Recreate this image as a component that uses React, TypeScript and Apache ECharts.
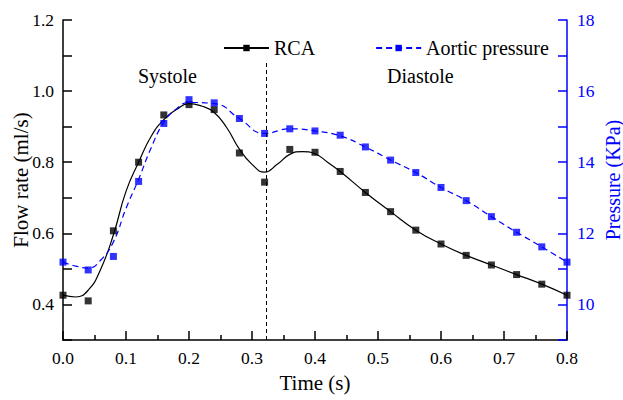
import React, { useEffect, useRef } from "react";
import * as echarts from "echarts";

// Measured sample times (s)
const sampleTimes = [0, 0.04, 0.08, 0.12, 0.16, 0.2, 0.24, 0.28, 0.32, 0.36, 0.4, 0.44, 0.48, 0.52, 0.56, 0.6, 0.64, 0.68, 0.72, 0.76, 0.8];
// RCA flow rate measured points (ml/s)
const rcaPoints = [0.426, 0.41, 0.607, 0.8, 0.933, 0.962, 0.948, 0.826, 0.744, 0.836, 0.828, 0.774, 0.715, 0.661, 0.609, 0.57, 0.538, 0.511, 0.484, 0.457, 0.426];
// Aortic pressure measured points (KPa)
const aorticPoints = [11.19, 10.97, 11.35, 13.46, 15.09, 15.76, 15.67, 15.23, 14.81, 14.94, 14.88, 14.76, 14.43, 14.06, 13.71, 13.29, 12.92, 12.47, 12.03, 11.62, 11.19];

// Fitted curve for RCA
const rcaCurveTimes = [0, 0.02, 0.04, 0.06, 0.08, 0.1, 0.12, 0.14, 0.16, 0.18, 0.2, 0.22, 0.24, 0.26, 0.28, 0.3, 0.32, 0.34, 0.36, 0.38, 0.4, 0.42, 0.44, 0.48, 0.52, 0.56, 0.6, 0.64, 0.68, 0.72, 0.76, 0.8];
const rcaCurveValues = [0.426, 0.421, 0.44, 0.5, 0.596, 0.718, 0.8, 0.873, 0.92, 0.948, 0.965, 0.958, 0.94, 0.897, 0.837, 0.794, 0.772, 0.794, 0.822, 0.83, 0.824, 0.8, 0.774, 0.715, 0.661, 0.609, 0.57, 0.538, 0.511, 0.484, 0.457, 0.426];

// Fitted curve for aortic pressure
const aorticCurveTimes = [0, 0.02, 0.04, 0.06, 0.08, 0.1, 0.12, 0.14, 0.16, 0.18, 0.2, 0.24, 0.28, 0.32, 0.36, 0.4, 0.44, 0.48, 0.52, 0.56, 0.6, 0.64, 0.68, 0.72, 0.76, 0.8];
const aorticCurveValues = [11.19, 11.08, 11.02, 11.25, 11.76, 12.7, 13.52, 14.41, 15.12, 15.5, 15.68, 15.65, 15.23, 14.81, 14.94, 14.88, 14.74, 14.43, 14.06, 13.71, 13.29, 12.92, 12.47, 12.03, 11.62, 11.19];

const phaseBoundary = 0.323;
const boundaryTop = 1.08;

const FONT = "'Liberation Serif', 'Times New Roman', serif";
const BLUE = "#0000ff";

const zip = (xs: number[], ys: number[]) => xs.map((x, i) => [x, ys[i]]);

export default function App() {
  const ref = useRef<HTMLDivElement>(null);
  useEffect(() => {
    if (!ref.current) return;
    const chart = echarts.init(ref.current, undefined, { renderer: "svg" });
    chart.setOption({
      animation: false,
      textStyle: { fontFamily: FONT },
      grid: { left: 63, right: 56, top: 20, bottom: 60, containLabel: false, outerBoundsMode: "none" },
      legend: {
        data: ["RCA", "Aortic pressure"],
        left: 218,
        top: 33,
        itemWidth: 45,
        itemHeight: 8,
        itemGap: 60,
        textStyle: { fontFamily: FONT, fontSize: 20, color: "#000" },
      },
      graphic: [
        { type: "text", left: 138, top: 66, style: { text: "Systole", font: `20px ${FONT}`, fill: "#000" } },
        { type: "text", left: 387, top: 66, style: { text: "Diastole", font: `20px ${FONT}`, fill: "#000" } },
      ],
      xAxis: {
        type: "value",
        min: 0,
        max: 0.8,
        interval: 0.1,
        name: "Time (s)",
        nameLocation: "middle",
        nameGap: 32,
        nameMoveOverlap: false,
        nameTextStyle: { fontFamily: FONT, fontSize: 21, fontWeight: 400, color: "#000" },
        axisLine: { show: true, onZero: false, lineStyle: { color: "#000", width: 1.5 } },
        axisTick: { show: true, inside: true, length: 9, lineStyle: { color: "#000", width: 1.5 } },
        minorTick: { show: true, splitNumber: 2, length: 5, lineStyle: { color: "#000", width: 1.5 } },
        axisLabel: { fontFamily: FONT, fontSize: 17.5, color: "#000", margin: 9, formatter: (v: number) => v.toFixed(1) },
        splitLine: { show: false },
      },
      yAxis: [
        {
          type: "value",
          min: 0.3,
          max: 1.2,
          interval: 0.1,
          position: "left",
          name: "Flow rate (ml/s)",
          nameLocation: "middle",
          nameGap: 32,
          nameMoveOverlap: false,
          nameTextStyle: { fontFamily: FONT, fontSize: 21, fontWeight: 400, color: "#000" },
          axisLine: { show: true, lineStyle: { color: "#000", width: 1.5 } },
          axisTick: { show: true, inside: true, length: 9, lineStyle: { color: "#000", width: 1.5 } },
          axisLabel: {
            fontFamily: FONT,
            fontSize: 17.5,
            color: "#000",
            margin: 9,
            formatter: (v: number) => {
              const r = Math.round(v * 10);
              return r % 2 === 0 && r >= 4 ? (r / 10).toFixed(1) : "";
            },
          },
          splitLine: { show: false },
        },
        {
          type: "value",
          min: 9,
          max: 18,
          interval: 1,
          position: "right",
          name: "Pressure (KPa)",
          nameLocation: "middle",
          nameGap: 36,
          nameMoveOverlap: false,
          nameRotate: 90,
          nameTextStyle: { fontFamily: FONT, fontSize: 20, fontWeight: 400, color: BLUE },
          axisLine: { show: true, lineStyle: { color: BLUE, width: 1.5 } },
          axisTick: { show: true, inside: true, length: 9, lineStyle: { color: BLUE, width: 1.5 } },
          axisLabel: {
            fontFamily: FONT,
            fontSize: 17.5,
            color: BLUE,
            margin: 10,
            formatter: (v: number) => (Math.round(v) % 2 === 0 && v >= 10 ? String(Math.round(v)) : ""),
          },
          splitLine: { show: false },
        },
      ],
      series: [
        {
          name: "RCA",
          type: "line",
          yAxisIndex: 0,
          data: zip(rcaCurveTimes, rcaCurveValues),
          smooth: true,
          symbol: "rect",
          symbolSize: 7,
          showSymbol: false,
          lineStyle: { color: "#000", width: 1.2 },
          itemStyle: { color: "#000" },
          markLine: {
            silent: true,
            symbol: "none",
            label: { show: false },
            lineStyle: { color: "#000", width: 1, type: [4, 3] },
            data: [[{ coord: [phaseBoundary, 0.3] }, { coord: [phaseBoundary, boundaryTop] }]],
          },
          z: 2,
        },
        {
          type: "scatter",
          yAxisIndex: 0,
          data: zip(sampleTimes, rcaPoints),
          symbol: "rect",
          symbolSize: 7,
          itemStyle: { color: "#000" },
          z: 3,
        },
        {
          name: "Aortic pressure",
          type: "line",
          yAxisIndex: 1,
          data: zip(aorticCurveTimes, aorticCurveValues),
          smooth: true,
          symbol: "rect",
          symbolSize: 7,
          showSymbol: false,
          lineStyle: { color: BLUE, width: 1.2, type: [6, 4] },
          itemStyle: { color: BLUE },
          z: 2,
        },
        {
          type: "scatter",
          yAxisIndex: 1,
          data: zip(sampleTimes, aorticPoints),
          symbol: "rect",
          symbolSize: 7,
          itemStyle: { color: BLUE },
          z: 3,
        },
      ],
    });
    return () => chart.dispose();
  }, []);
  return <div ref={ref} style={{ width: 623, height: 400, position: "absolute", left: 0, top: 0 }} />;
}
